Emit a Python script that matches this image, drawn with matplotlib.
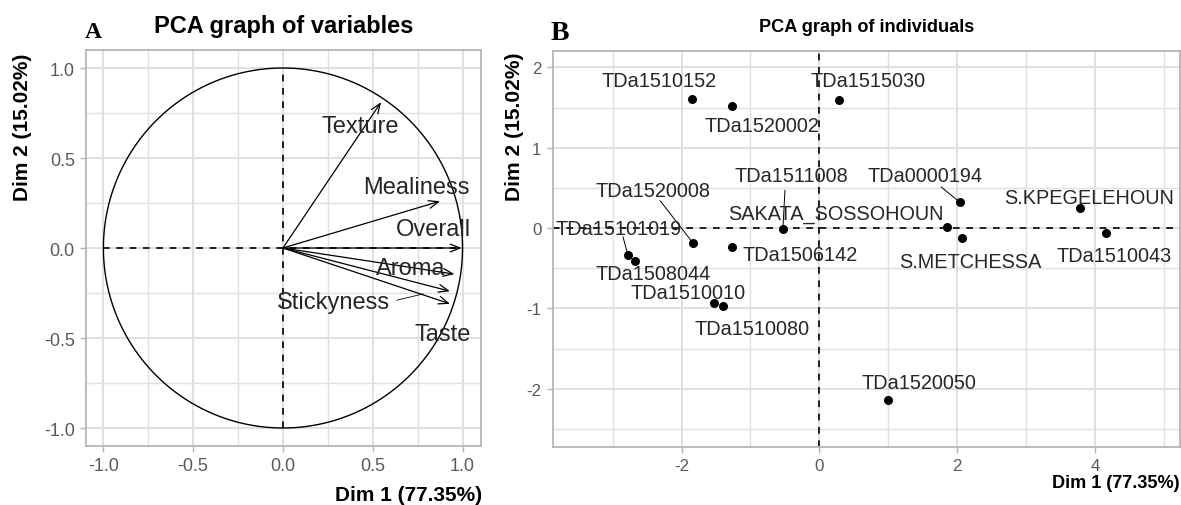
# -*- coding: utf-8 -*-
"""
PCA plots: correlation circle of variables (A) and map of individuals (B)
"""
import numpy as np
import matplotlib
matplotlib.use("Agg")
import matplotlib.pyplot as plt
from matplotlib import font_manager

plt.rcParams["axes.unicode_minus"] = False

# ---- data: variables (panel A) ----
var_names = ["Texture", "Mealiness", "Overall", "Aroma", "Stickyness", "Taste"]
var_dim1 = [0.546, 0.875, 0.995, 0.955, 0.93, 0.93]
var_dim2 = [0.81, 0.26, 0.0, -0.145, -0.24, -0.31]
var_lab_x = [0.43, 0.745, 0.84, 0.71, 0.28, 0.89]
var_lab_y = [0.68, 0.34, 0.105, -0.11, -0.30, -0.48]

# ---- data: individuals (panel B) ----
ind_names = ["TDa1510152", "TDa1520002", "TDa1515030", "TDa1511008",
             "SAKATA_SOSSOHOUN", "TDa0000194", "S.KPEGELEHOUN", "TDa1510043",
             "S.METCHESSA", "TDa1520008", "TDa1506142", "TDa15101019",
             "TDa1508044", "TDa1510010", "TDa1510080", "TDa1520050"]
ind_dim1 = [-1.855, -1.27, 0.29, -0.53, 1.85, 2.04, 3.78, 4.16,
            2.07, -1.84, -1.27, -2.78, -2.67, -1.535, -1.40, 1.0]
ind_dim2 = [1.61, 1.52, 1.59, -0.01, 0.01, 0.32, 0.25, -0.06,
            -0.12, -0.18, -0.24, -0.33, -0.415, -0.93, -0.97, -2.14]
ind_lab_x = [-2.33, -0.83, 0.71, -0.40, 0.24, 1.53, 3.92, 4.28,
             2.19, -2.41, -0.28, -2.91, -2.42, -1.90, -0.98, 1.44]
ind_lab_y = [1.84, 1.28, 1.84, 0.655, 0.18, 0.655, 0.385, -0.34,
             -0.415, 0.47, -0.33, -0.01, -0.56, -0.80, -1.245, -1.92]
# labels that got a repel segment
seg_names = ["TDa1511008", "TDa0000194", "TDa1520008", "TDa15101019"]
seg_from = [(-0.50, 0.47), (1.77, 0.51), (-2.31, 0.34), (-2.85, -0.11)]

xlab = "Dim 1 (77.35%)"
ylab = "Dim 2 (15.02%)"

# ---- fonts ----
names = set(f.name for f in font_manager.fontManager.ttflist)
SANS = "Liberation Sans"
if "Liberation Sans Narrow" in names:
    NARROW = "Liberation Sans Narrow"
    nscale = 1.0
else:
    NARROW = SANS
    nscale = 0.84
SERIF = "Liberation Serif"

GRID = "#E0E0E0"
FRAME = "#B5B5B5"
TICKC = "#5A5A5A"
TXT = "#262626"


def style_axes(ax):
    ax.set_facecolor("white")
    for s in ax.spines.values():
        s.set_color(FRAME)
        s.set_linewidth(1.3)
    ax.grid(which="major", color=GRID, linewidth=1.4, zorder=0)
    ax.grid(which="minor", color=GRID, linewidth=1.0, zorder=0)
    ax.tick_params(which="major", length=4, width=1.0, color=FRAME, pad=4)
    ax.tick_params(which="minor", length=0)
    ax.set_axisbelow(True)


fig = plt.figure(figsize=(11.81, 5.06), dpi=100)

# ================= Panel A =================
axA = fig.add_axes([0.0728, 0.1166, 0.3345, 0.7826])
style_axes(axA)
axA.set_xlim(-1.097, 1.103)
axA.set_ylim(-1.1, 1.1)
axA.set_xticks([-1.0, -0.5, 0.0, 0.5, 1.0])
axA.set_yticks([-1.0, -0.5, 0.0, 0.5, 1.0])
axA.set_xticks([-0.75, -0.25, 0.25, 0.75], minor=True)
axA.set_yticks([-0.75, -0.25, 0.25, 0.75], minor=True)
axA.set_xticklabels(["-1.0", "-0.5", "0.0", "0.5", "1.0"])
axA.set_yticklabels(["-1.0", "-0.5", "0.0", "0.5", "1.0"])
for lab in axA.get_xticklabels() + axA.get_yticklabels():
    lab.set_fontfamily(SANS)
    lab.set_fontsize(13)
    lab.set_color(TICKC)

t = np.linspace(0, 2 * np.pi, 400)
axA.plot(np.cos(t), np.sin(t), color="black", linewidth=1.0, zorder=2)
axA.plot([-1, 1], [0, 0], color="black", linestyle=(0, (4, 4)), linewidth=1.2, zorder=2)
axA.plot([0, 0], [-1, 1], color="black", linestyle=(0, (4, 4)), linewidth=1.2, zorder=2)

for i in range(len(var_names)):
    axA.annotate("", xy=(var_dim1[i], var_dim2[i]), xytext=(0, 0),
                 arrowprops=dict(arrowstyle="->,head_length=0.7,head_width=0.28",
                                 color="black", linewidth=0.9, shrinkA=0, shrinkB=0),
                 zorder=3)
    axA.text(var_lab_x[i], var_lab_y[i], var_names[i], fontfamily=SANS,
             fontsize=17, color=TXT, ha="center", va="center", zorder=4)
# repel segment for Stickyness
axA.plot([0.635, 0.78], [-0.29, -0.255], color="black", linewidth=0.6, zorder=3)

axA.set_title("PCA graph of variables", fontfamily=SANS, fontweight="bold",
              fontsize=17, color="black", pad=13)
fig.text(482 / 1181, 1 - 496 / 506, xlab, fontfamily=SANS, fontweight="bold",
         fontsize=15, color="black", ha="right", va="center")
fig.text(23 / 1181, 1 - 127 / 506, ylab, fontfamily=SANS, fontweight="bold",
         fontsize=15, color="black", ha="center", va="center", rotation=90)
fig.text(93 / 1181, 1 - 33 / 506, "A", fontfamily=SERIF, fontweight="bold",
         fontsize=17, color="black", ha="center", va="center")

# ================= Panel B =================
axB = fig.add_axes([0.468, 0.114, 0.531, 0.784])
style_axes(axB)
axB.set_xlim(-3.87, 5.23)
axB.set_ylim(-2.73, 2.21)
axB.set_xticks([-2, 0, 2, 4])
axB.set_yticks([-2, -1, 0, 1, 2])
axB.set_xticks([-3, -1, 1, 3, 5], minor=True)
axB.set_yticks([-2.5, -1.5, -0.5, 0.5, 1.5], minor=True)
axB.set_xticklabels(["-2", "0", "2", "4"])
axB.set_yticklabels(["-2", "-1", "0", "1", "2"])
for lab in axB.get_xticklabels() + axB.get_yticklabels():
    lab.set_fontfamily(NARROW)
    lab.set_fontsize(14.5 * nscale)
    lab.set_color(TICKC)

axB.axhline(0, color="black", linestyle=(0, (4, 4)), linewidth=1.2, zorder=2)
axB.axvline(0, color="black", linestyle=(0, (4, 4)), linewidth=1.2, zorder=2)
axB.scatter(ind_dim1, ind_dim2, s=30, color="black", zorder=4)

for i in range(len(ind_names)):
    axB.text(ind_lab_x[i], ind_lab_y[i], ind_names[i], fontfamily=NARROW,
             fontsize=17 * nscale, color=TXT, ha="center", va="center", zorder=5)
for k in range(len(seg_names)):
    j = ind_names.index(seg_names[k])
    x0, y0 = seg_from[k]
    axB.plot([x0, ind_dim1[j]], [y0, ind_dim2[j]], color="black",
             linewidth=0.7, zorder=3)

axB.set_title("PCA graph of individuals", fontfamily=NARROW, fontweight="bold",
              fontsize=15.5 * nscale, color="black", pad=14)
fig.text(1180 / 1181, 1 - 484 / 506, xlab, fontfamily=NARROW, fontweight="bold",
         fontsize=15.5 * nscale, color="black", ha="right", va="center")
fig.text(515 / 1181, 1 - 127 / 506, ylab, fontfamily=NARROW, fontweight="bold",
         fontsize=18 * nscale, color="black", ha="center", va="center", rotation=90)
fig.text(560 / 1181, 1 - 34 / 506, "B", fontfamily=SERIF, fontweight="bold",
         fontsize=20, color="black", ha="center", va="center")

fig.savefig("out.png", dpi=100, facecolor="white")
